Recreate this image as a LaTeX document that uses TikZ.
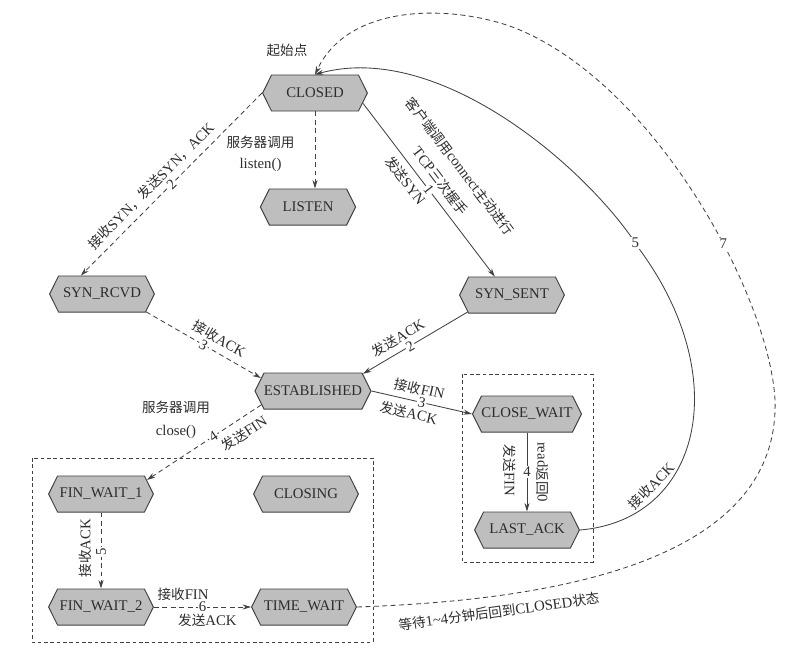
\documentclass[tikz,border=0pt]{standalone}
\usepackage{fontspec}
\setmainfont{Liberation Serif}
\newfontfamily\zhfont[Scale=0.92]{Noto Sans CJK SC}
\newcommand{\zh}[1]{{\zhfont #1}}
\usetikzlibrary{shapes.symbols,arrows.meta,calc}
\definecolor{tcpfill}{RGB}{190,190,190}
\definecolor{tcpline}{RGB}{65,65,65}
\definecolor{tcptext}{RGB}{45,45,45}
\tikzset{
  state/.style={signal, signal to=east and west, signal pointer angle=127,
    draw=tcpline, fill=tcpfill, line width=0.7pt, minimum height=0.9cm,
    minimum width=2.62cm, inner xsep=0pt, text=tcptext,
    font=\fontsize{10.5}{12}\selectfont},
  lbl/.style={text=tcptext, font=\fontsize{10.5}{14.5}\selectfont, inner sep=1.5pt},
  num/.style={lbl, fill=white, inner sep=0.8pt},
  arr/.style={draw=tcpline, line width=0.6pt, -{Stealth[length=6pt,width=3.6pt]}},
  darr/.style={arr, dash pattern=on 3.5pt off 2.5pt},
  box/.style={draw=tcpline, line width=0.6pt, dash pattern=on 2.5pt off 2pt},
}

\begin{document}
\begin{tikzpicture}[x=0.025cm,y=-0.025cm]
  \useasboundingbox (0,0) rectangle (790,658);
  % --- states ---
  \node[state] (closed) at (315,93) {CLOSED};
  \node[state, minimum width=2.38cm] (listen) at (308,207) {LISTEN};
  \node[state] (synrcvd) at (102,294) {SYN\_RCVD};
  \node[state] (synsent) at (512,295) {SYN\_SENT};
  \node[state] (established) at (313,391) {ESTABLISHED};
  \node[state] (closewait) at (527,414) {CLOSE\_WAIT};
  \node[state] (lastack) at (527,530) {LAST\_ACK};
  \node[state] (finwaita) at (101,494) {FIN\_WAIT\_1};
  \node[state] (closing) at (306,494) {CLOSING};
  \node[state] (finwaitb) at (101,607) {FIN\_WAIT\_2};
  \node[state] (timewait) at (304,607) {TIME\_WAIT};
  \node[lbl] (startlbl) at (287,50) {\zh{起始点}};
  % --- groups (active / passive close) ---
  \draw[box] (32,458) rectangle (373,642);
  \draw[box] (462,374) rectangle (593,562);
  % --- open ---
  \draw[arr] (closed.-12) -- (synsent.133)
    node[lbl, pos=0.5, sloped, above=4pt, align=center] {\zh{客户端调用}connect\zh{主动进行}\\[3pt]TCP\zh{三次握手}}
    node[num, pos=0.5, sloped] {1}
    node[lbl, pos=0.4, sloped, below=3pt] {\zh{发送}SYN};
  \draw[darr] (closed.south) -- (closed.south |- listen.north)
    node[lbl, pos=0.55, left=0.45cm, align=center] {\zh{服务器调用}\\listen()};
  \draw[darr] (closed.west) -- (synrcvd.139)
    node[lbl, pos=0.56, sloped, above=3pt] {\zh{接收}SYN\zh{，发送}SYN\zh{，}ACK}
    node[num, pos=0.5, sloped] {2};
  \draw[darr] (synrcvd.-22) -- (established.166)
    node[lbl, pos=0.58, sloped, above=3pt] {\zh{接收}ACK}
    node[num, pos=0.5, sloped] {3};
  \draw[arr] (synsent.201) -- (established.19)
    node[lbl, pos=0.6, sloped, above=3pt] {\zh{发送}ACK}
    node[num, pos=0.55, sloped] {2};
  % --- close ---
  \draw[arr] (established.east) -- (closewait.west)
    node[lbl, pos=0.45, sloped, above=3pt] {\zh{接收}FIN}
    node[num, pos=0.5, sloped] {3}
    node[lbl, pos=0.4, sloped, below=3pt] {\zh{发送}ACK};
  \draw[arr] (closewait.south) -- (lastack.north)
    node[num, pos=0.5] {4}
    node[lbl, pos=0.48, sloped, below=6pt] {\zh{发送}FIN}
    node[lbl, pos=0.5, sloped, above=5pt] {read\zh{返回}0};
  \draw[darr] (established.195) -- (finwaita.17)
    node[num, pos=0.42, sloped] {4}
    node[lbl, pos=0.22, sloped, below=4pt] {\zh{发送}FIN}
    node[lbl, pos=0.2, left=0.65cm, align=center] {\zh{服务器调用}\\[2pt]close()};
  \draw[darr] (finwaita.south) -- (finwaitb.north)
    node[num, pos=0.52, rotate=90] {5}
    node[lbl, pos=0.47, rotate=90, above=5pt] {\zh{接收}ACK};
  \draw[darr] (finwaitb.east) -- (timewait.west)
    node[lbl, pos=0.3, above=3pt] {\zh{接收}FIN}
    node[num, pos=0.5] {6}
    node[lbl, pos=0.55, below=3pt] {\zh{发送}ACK};
  % --- back to CLOSED ---
  \draw[arr] (lastack.east) .. controls (700,520) and (735,380) .. (640,250)
    node[lbl, pos=0.28, sloped, above=2pt] {\zh{接收}ACK}
    .. controls (590,170) and (440,40) .. (closed.north)
    node[num, pos=0.03] {5};
  \draw[darr] (timewait.east) .. controls (560,600) and (780,560) .. (775,400)
    node[lbl, pos=0.23, sloped, below=5pt] {\zh{等待}1\textasciitilde4\zh{分钟后回到}CLOSED\zh{状态}}
    .. controls (770,300) and (660,90) .. (520,30)
    node[num, pos=0.4] {7}
    .. controls (460,5) and (350,0) .. (closed.north);
\end{tikzpicture}
\end{document}
